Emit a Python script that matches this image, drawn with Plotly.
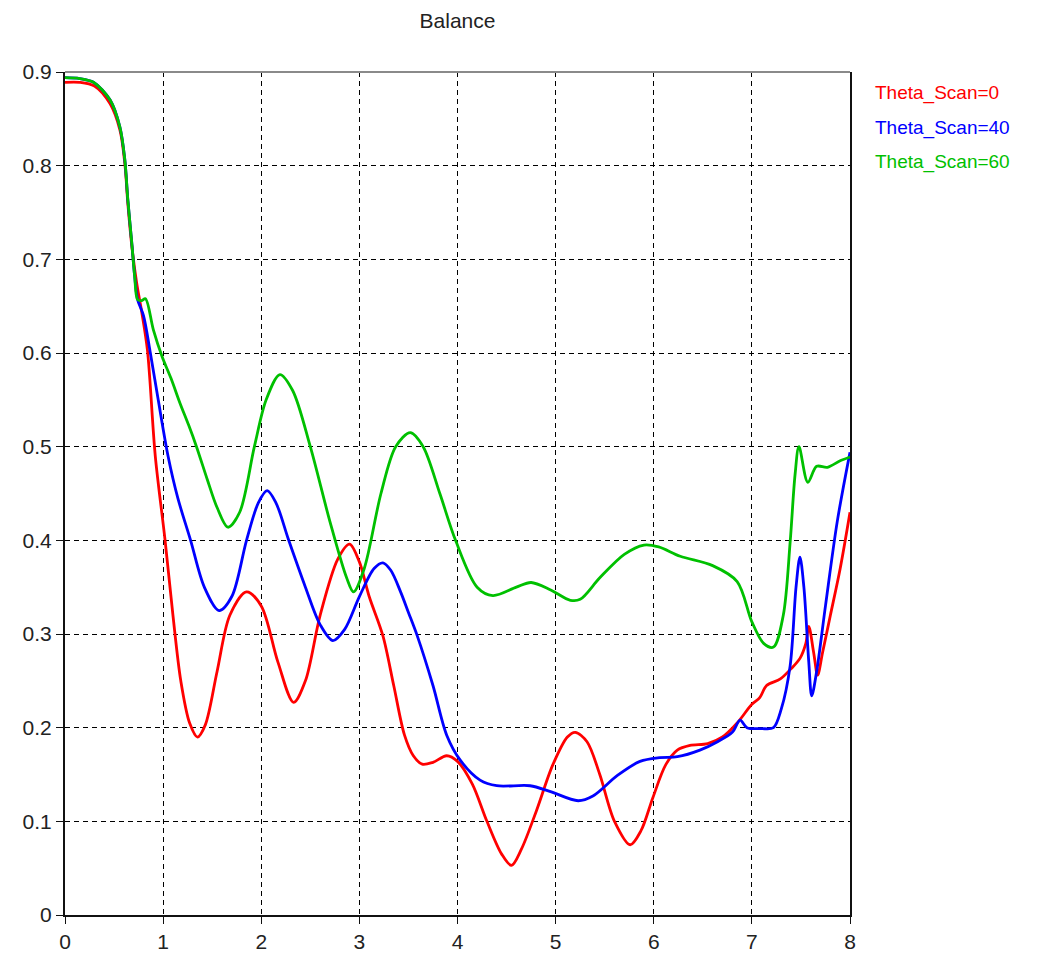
import plotly.graph_objects as go

# Balance curves for three scan angles
x_scan0 = [0.0, 0.15, 0.3, 0.46, 0.56, 0.61, 0.64, 0.68, 0.73, 0.78, 0.84, 0.92, 1.02, 1.1, 1.18, 1.27,
           1.35, 1.43, 1.55, 1.68, 1.85, 2.0, 2.17, 2.33, 2.45, 2.6, 2.78, 2.9, 3.0, 3.1, 3.24,
           3.35, 3.46, 3.55, 3.64, 3.75, 3.89, 4.0, 4.15, 4.3, 4.45, 4.55, 4.65, 4.8, 4.97, 5.12, 5.2,
           5.32, 5.45, 5.6, 5.76, 5.87, 5.99, 6.12, 6.24, 6.37, 6.55, 6.7, 6.85, 7.0, 7.08, 7.15,
           7.29, 7.4, 7.49, 7.55, 7.58, 7.63, 7.67, 7.72, 7.8, 7.9, 8.0]
y_scan0 = [0.889, 0.889, 0.885, 0.866, 0.838, 0.802, 0.76, 0.715, 0.675, 0.645, 0.603, 0.49, 0.4, 0.32, 0.25, 0.205,
           0.19, 0.203, 0.26, 0.32, 0.345, 0.33, 0.27, 0.227, 0.25, 0.32, 0.38, 0.396, 0.377, 0.34, 0.298,
           0.245, 0.192, 0.17, 0.161, 0.163, 0.170, 0.164, 0.14, 0.1, 0.065, 0.053, 0.07, 0.11, 0.16, 0.19, 0.195,
           0.185, 0.15, 0.1, 0.075, 0.09, 0.125, 0.16, 0.176, 0.181, 0.183, 0.19, 0.205, 0.225, 0.232, 0.245,
           0.252, 0.263, 0.274, 0.29, 0.308, 0.28, 0.256, 0.28, 0.32, 0.37, 0.43]

x_scan40 = [0.0, 0.15, 0.29, 0.46, 0.56, 0.61, 0.64, 0.68, 0.71, 0.74, 0.8, 0.87, 0.95, 1.05, 1.15, 1.28,
            1.42, 1.57, 1.7, 1.85, 1.97, 2.06, 2.15, 2.28, 2.45, 2.6, 2.73, 2.85, 3.0, 3.15, 3.24,
            3.32, 3.42, 3.5, 3.59, 3.75, 3.89, 4.03, 4.23, 4.4, 4.74, 4.94, 5.23, 5.38, 5.63, 5.86, 6.06,
            6.24, 6.47, 6.65, 6.8, 6.88, 6.95, 7.1, 7.22, 7.3, 7.39, 7.45, 7.49, 7.53, 7.58, 7.61,
            7.66, 7.75, 7.87, 8.0]
y_scan40 = [0.894, 0.893, 0.889, 0.870, 0.841, 0.806, 0.764, 0.718, 0.682, 0.657, 0.64, 0.6, 0.55, 0.49, 0.445, 0.4,
            0.35, 0.325, 0.34, 0.4, 0.44, 0.453, 0.44, 0.4, 0.35, 0.31, 0.293, 0.305, 0.34, 0.37, 0.376,
            0.368, 0.345, 0.323, 0.298, 0.245, 0.192, 0.165, 0.144, 0.138, 0.138, 0.132, 0.122, 0.127, 0.149, 0.164, 0.168,
            0.169, 0.176, 0.185, 0.195, 0.208, 0.2, 0.199, 0.2, 0.22, 0.266, 0.35, 0.382, 0.35, 0.27, 0.234,
            0.26, 0.33, 0.42, 0.494]

x_scan60 = [0.0, 0.15, 0.29, 0.46, 0.56, 0.61, 0.64, 0.68, 0.71, 0.74, 0.78, 0.82, 0.9, 0.99, 1.08, 1.17,
            1.26, 1.34, 1.45, 1.55, 1.66, 1.78, 1.93, 2.05, 2.19, 2.32, 2.5, 2.7, 2.87, 2.94, 3.05, 3.22, 3.37,
            3.52, 3.65, 3.82, 3.98, 4.2, 4.36, 4.6, 4.75, 4.95, 5.15, 5.25, 5.45, 5.7, 5.9, 6.05,
            6.27, 6.6, 6.85, 7.0, 7.12, 7.22, 7.32, 7.39, 7.44, 7.48, 7.57, 7.66, 7.77, 7.9, 8.0]
y_scan60 = [0.894, 0.893, 0.889, 0.870, 0.841, 0.806, 0.764, 0.718, 0.682, 0.657, 0.656, 0.658, 0.625, 0.596, 0.573, 0.547,
            0.523, 0.5, 0.465, 0.435, 0.414, 0.43, 0.5, 0.55, 0.577, 0.56, 0.5, 0.42, 0.36, 0.345, 0.37, 0.45, 0.5,
            0.515, 0.5, 0.45, 0.4, 0.35, 0.341, 0.35, 0.355, 0.347, 0.336, 0.337, 0.36, 0.385, 0.395, 0.393,
            0.383, 0.373, 0.356, 0.313, 0.29, 0.286, 0.32, 0.398, 0.47, 0.5, 0.462, 0.479, 0.478, 0.485, 0.489]

series = [
    ("Theta_Scan=0", x_scan0, y_scan0, "#ff0000"),
    ("Theta_Scan=40", x_scan40, y_scan40, "#0000ff"),
    ("Theta_Scan=60", x_scan60, y_scan60, "#00c000"),
]

x_ticks = [0, 1, 2, 3, 4, 5, 6, 7, 8]
y_ticks = [0, 0.1, 0.2, 0.3, 0.4, 0.5, 0.6, 0.7, 0.8, 0.9]
y_tick_text = ["0", "0.1", "0.2", "0.3", "0.4", "0.5", "0.6", "0.7", "0.8", "0.9"]

FONT = "Liberation Sans, Arial, sans-serif"

fig = go.Figure()
for name, xs, ys, color in series:
    fig.add_trace(go.Scatter(
        x=xs, y=ys, name=name, mode="lines",
        line=dict(color=color, width=2.8, shape="spline", smoothing=0.9),
        showlegend=False,
    ))

# Coloured text legend to the right of the plot
legend_y = [0.975, 0.934, 0.893]
for (name, _, _, color), ly in zip(series, legend_y):
    fig.add_annotation(
        text=name, x=1.029, y=ly, xref="paper", yref="paper",
        xanchor="left", yanchor="middle", showarrow=False,
        font=dict(family=FONT, size=19, color=color),
    )

# Light frame edge along the top of the plot area
fig.add_shape(type="line", xref="paper", yref="paper", x0=0, x1=1, y0=1, y1=1,
              line=dict(color="#8a8a8a", width=2))

axis_common = dict(
    showgrid=True, gridcolor="#000000", gridwidth=1, griddash="5px,4px",
    showline=True, linecolor="#111111", linewidth=2,
    ticks="outside", ticklen=7, tickcolor="#111111", tickwidth=1,
    tickfont=dict(family=FONT, size=21, color="#222222"),
    zeroline=False,
)

fig.update_xaxes(range=[0, 8], tickvals=x_ticks, mirror=False, **axis_common)
fig.update_yaxes(range=[0, 0.9], tickvals=y_ticks, ticktext=y_tick_text, mirror=True, **axis_common)

fig.update_layout(
    width=1047, height=965,
    margin=dict(l=65, r=197, t=72, b=48),
    paper_bgcolor="white", plot_bgcolor="white",
    title=dict(text="Balance", x=(65 + 850) / 2 / 1047, xanchor="center",
               y=1 - 21 / 965, yanchor="middle",
               font=dict(family=FONT, size=21, color="#222222")),
)

fig.write_html("out.html")
